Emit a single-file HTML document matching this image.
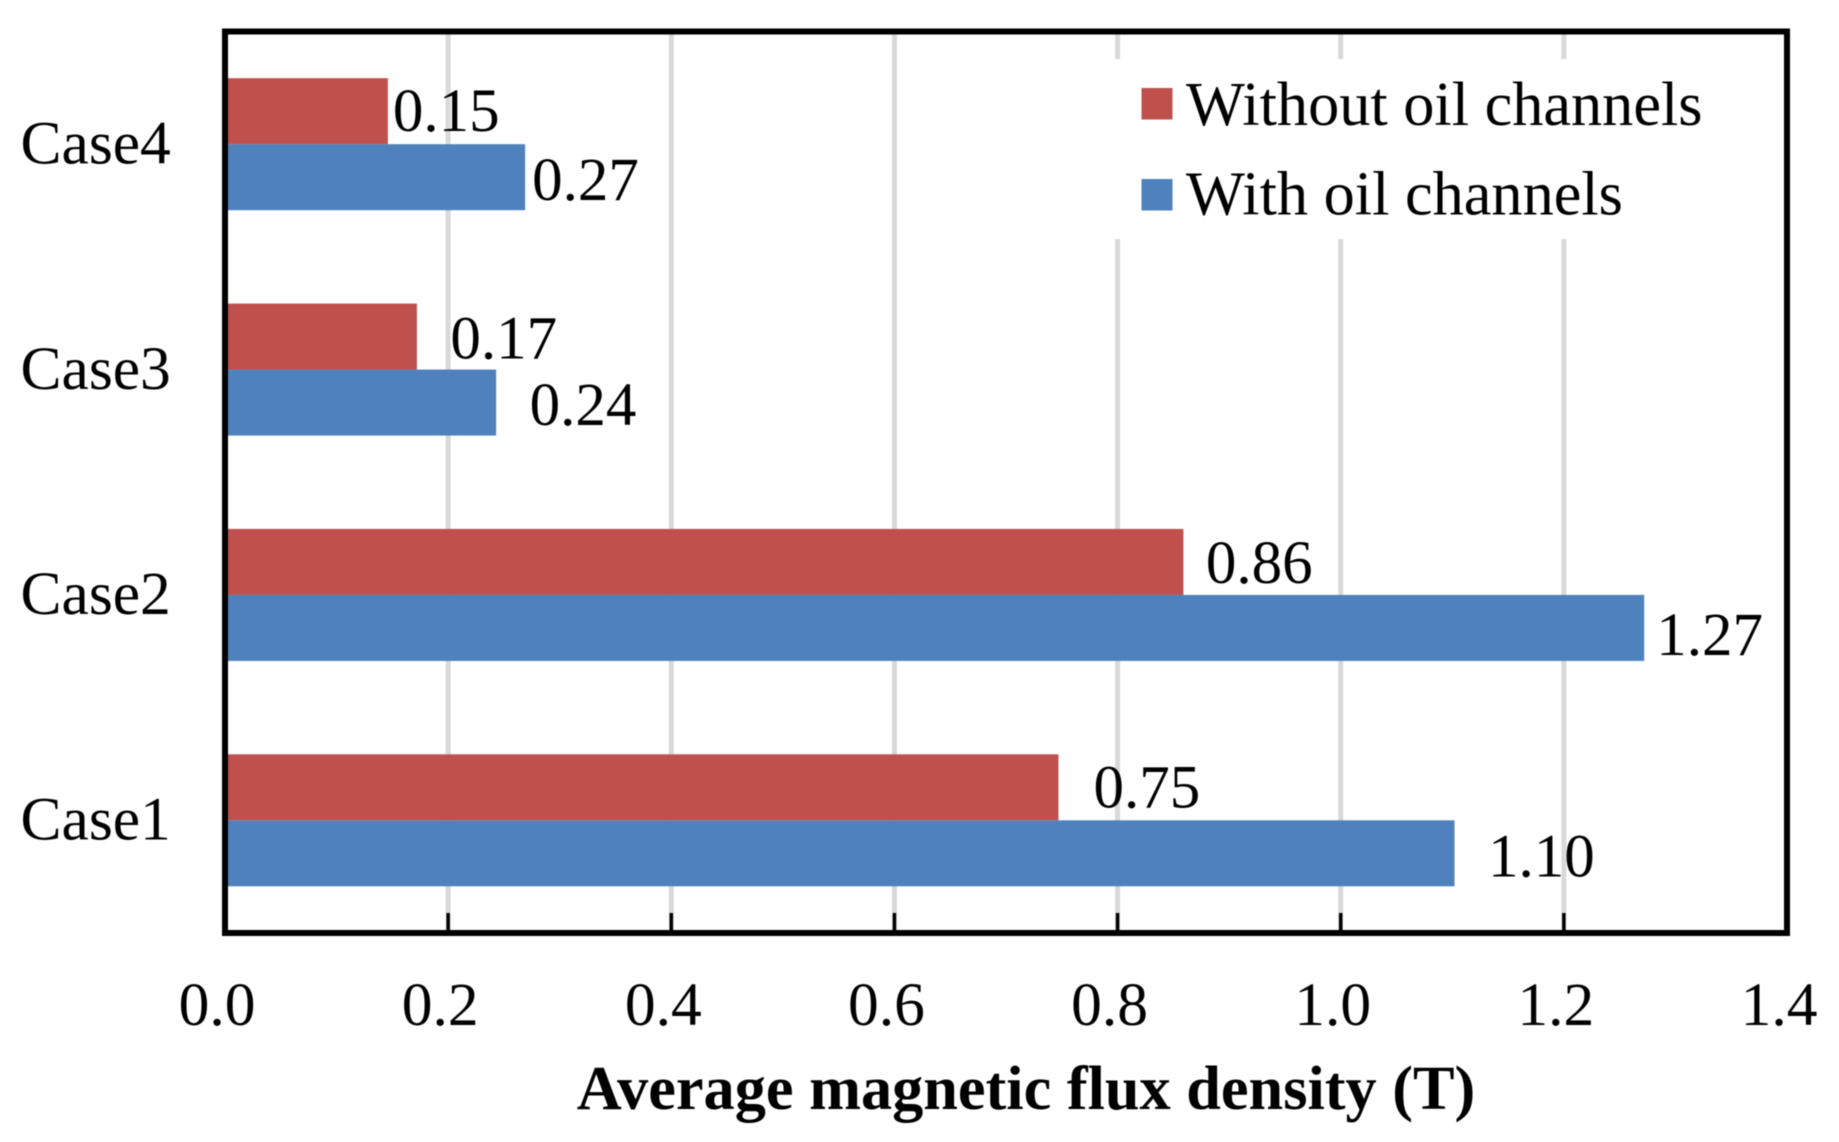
<!DOCTYPE html>
<html lang="en">
<head>
<meta charset="utf-8">
<title>Average magnetic flux density</title>
<style>
  html, body { margin: 0; padding: 0; background: #fff; }
  svg { display: block; filter: blur(0.5px); }
  text { font-family: "Liberation Serif", "Times New Roman", serif; fill: #000; }
</style>
</head>
<body>
<svg id="chart" xmlns="http://www.w3.org/2000/svg" width="1839" height="1142" viewBox="0 0 1839 1142">
  <rect x="0" y="0" width="1839" height="1142" fill="#ffffff"></rect>
  <g id="grid"></g>
  <rect x="1100" y="59" width="650" height="180" fill="#ffffff"></rect>
  <g id="bars"></g>
  <g id="ticks"></g>
  <rect x="225" y="31.5" width="1562" height="901.5" fill="none" stroke="#000000" stroke-width="6"></rect>
  <g id="cat-labels"></g>
  <g id="tick-labels"></g>
  <g id="value-labels"></g>
  <text x="1026" y="1109" text-anchor="middle" font-size="62.3" font-weight="700">Average magnetic flux density (T)</text>
  <g>
    <g>
      <rect x="1141.5" y="88" width="31" height="31.5" fill="#C0504D"></rect>
      <text x="1186" y="125" font-size="62.3">Without oil channels</text>
    </g>
    <g>
      <rect x="1141.5" y="179" width="31" height="31.5" fill="#4F81BD"></rect>
      <text x="1186" y="214.5" font-size="62.3">With oil channels</text>
    </g>
  </g>
</svg>
<script>
// Chart data (listed bottom-to-top along the category axis)
const categories = ['Case1', 'Case2', 'Case3', 'Case4'];
const withoutOil = [0.747, 0.859, 0.172, 0.146];
const withOil = [1.102, 1.272, 0.243, 0.269];
const xTicks = [0, 0.2, 0.4, 0.6, 0.8, 1.0, 1.2, 1.4];
const xTickLabels = ['0.0', '0.2', '0.4', '0.6', '0.8', '1.0', '1.2', '1.4'];

// Layout
const plot = { left: 225, right: 1787, top: 31.5, bottom: 933 };
const xMax = 1.4;
const barHeight = 66;
const labelNudge = {
  without: [{ dx: 35, dy: 20 }, { dx: 22.5, dy: 21 }, { dx: 33.5, dy: 22 }, { dx: 5, dy: 20 }],
  with: [{ dx: 33.5, dy: 23 }, { dx: 12, dy: 27 }, { dx: 33.5, dy: 22.5 }, { dx: 7, dy: 23 }]
};

const NS = 'http://www.w3.org/2000/svg';
const xScale = v => plot.left + (v / xMax) * (plot.right - plot.left);
const bandHeight = (plot.bottom - plot.top) / categories.length;
const yCenter = i => plot.bottom - (i + 0.5) * bandHeight;

function make(tag, attrs, parentId, txt) {
  const el = document.createElementNS(NS, tag);
  for (const k in attrs) el.setAttribute(k, attrs[k]);
  if (txt !== undefined) el.textContent = txt;
  document.getElementById(parentId).appendChild(el);
  return el;
}

// Gridlines and tick marks
xTicks.forEach(function (t, i) {
  if (t > 0 && t < xMax) {
    const g = make('line', { x1: xScale(t), x2: xScale(t), y1: plot.top, y2: plot.bottom, stroke: '#d9d9d9', 'stroke-width': 5 }, 'grid');
    
    
    const m = make('line', { x1: xScale(t), x2: xScale(t), y1: plot.bottom - 20, y2: plot.bottom, stroke: '#000000', 'stroke-width': 3.5 }, 'ticks');
    
    
  }
  const lab = make('text', { x: xScale(t) - 8, y: 1025, 'text-anchor': 'middle', 'font-size': 61.5 }, 'tick-labels', xTickLabels[i]);
  
  
});

// Bars, value labels, category labels
categories.forEach(function (c, i) {
  const yc = yCenter(i);
  const catLabel = make('text', { x: 20.5, y: yc + 19.3, 'font-size': 61.5 }, 'cat-labels', c);
  
  

  const redEnd = xScale(withoutOil[i]);
  const red = make('rect', { x: plot.left, y: yc - barHeight, width: redEnd - plot.left, height: barHeight, fill: '#C0504D' }, 'bars');
  
  

  const blueEnd = xScale(withOil[i]);
  const blue = make('rect', { x: plot.left, y: yc, width: blueEnd - plot.left, height: barHeight, fill: '#4F81BD' }, 'bars');
  
  

  const redLabel = make('text', { x: redEnd + labelNudge.without[i].dx, y: yc - barHeight / 2 + labelNudge.without[i].dy, 'font-size': 61 }, 'value-labels', withoutOil[i].toFixed(2));
  
  

  const blueLabel = make('text', { x: blueEnd + labelNudge.with[i].dx, y: yc + barHeight / 2 + labelNudge.with[i].dy, 'font-size': 61 }, 'value-labels', withOil[i].toFixed(2));
  
  
});
</script>
</body>
</html>
